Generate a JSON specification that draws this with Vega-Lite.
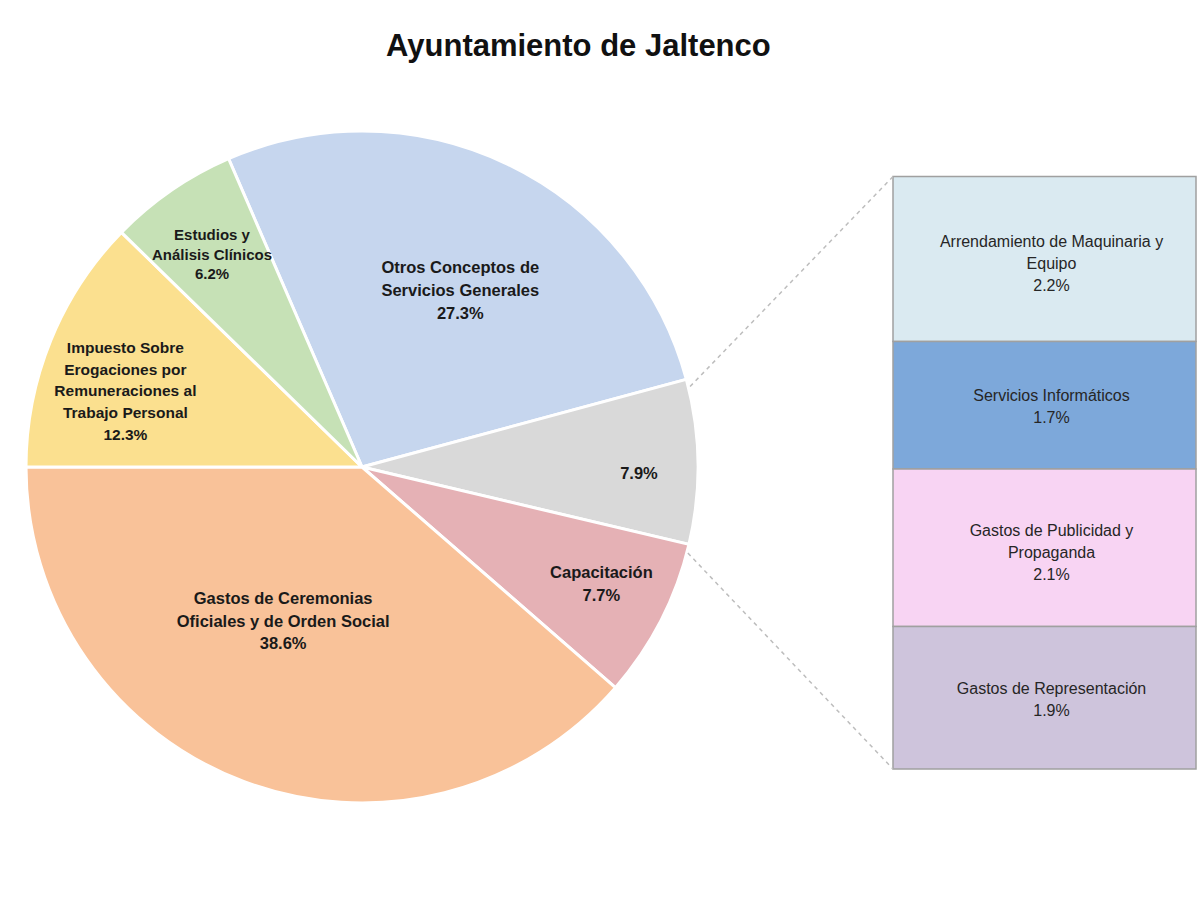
{
  "$schema": "https://vega.github.io/schema/vega-lite/v6.json",
  "background": "white",
  "padding": {"left": 20, "top": 31, "right": 6, "bottom": 10},
  "bounds": "flush",
  "title": {
    "text": "Ayuntamiento de Jaltenco",
    "font": "Liberation Sans",
    "fontSize": 31,
    "fontWeight": "bold",
    "color": "#111111",
    "anchor": "middle",
    "dx": -30,
    "offset": 62
  },
  "config": {"view": {"stroke": null}},
  "resolve": {"scale": {"color": "independent"}},
  "datasets": {
    "pie": [
      {"cat": "Otros Conceptos de Servicios Generales", "value": 27.3, "ord": 1, "label": "Otros Conceptos de\nServicios Generales\n27.3%"},
      {"cat": "Otros", "value": 7.9, "ord": 2, "label": "7.9%"},
      {"cat": "Capacitación", "value": 7.7, "ord": 3, "label": "Capacitación\n7.7%"},
      {"cat": "Gastos de Ceremonias Oficiales y de Orden Social", "value": 38.6, "ord": 4, "label": "Gastos de Ceremonias\nOficiales y de Orden Social\n38.6%"},
      {"cat": "Impuesto Sobre Erogaciones por Remuneraciones al Trabajo Personal", "value": 12.3, "ord": 5, "label": "Impuesto Sobre\nErogaciones por\nRemuneraciones al\nTrabajo Personal\n12.3%"},
      {"cat": "Estudios y Análisis Clínicos", "value": 6.2, "ord": 6, "label": "Estudios y\nAnálisis Clínicos\n6.2%"}
    ],
    "bar": [
      {"cat": "Arrendamiento de Maquinaria y Equipo", "value": 2.2, "ord": 1, "lines": 3, "label": "Arrendamiento de Maquinaria y\nEquipo\n2.2%"},
      {"cat": "Servicios Informáticos", "value": 1.7, "ord": 2, "lines": 2, "label": "Servicios Informáticos\n1.7%"},
      {"cat": "Gastos de Publicidad y Propaganda", "value": 2.1, "ord": 3, "lines": 3, "label": "Gastos de Publicidad y\nPropaganda\n2.1%"},
      {"cat": "Gastos de Representación", "value": 1.9, "ord": 4, "lines": 2, "label": "Gastos de Representación\n1.9%"}
    ]
  },
  "spacing": 195,
  "hconcat": [
    {
      "width": 672,
      "height": 672,
      "data": {"name": "pie"},
      "encoding": {
        "theta": {"field": "value", "type": "quantitative", "stack": true, "scale": {"range": [-0.4084, 5.8748]}},
        "order": {"field": "ord", "type": "quantitative", "sort": "ascending"}
      },
      "layer": [
        {
          "mark": {"type": "arc", "outerRadius": 336, "stroke": "white", "strokeWidth": 3},
          "encoding": {
            "color": {
              "field": "cat",
              "type": "nominal",
              "legend": null,
              "scale": {
                "domain": ["Otros Conceptos de Servicios Generales", "Otros", "Capacitación", "Gastos de Ceremonias Oficiales y de Orden Social", "Impuesto Sobre Erogaciones por Remuneraciones al Trabajo Personal", "Estudios y Análisis Clínicos"],
                "range": ["#C6D6EE", "#D9D9D9", "#E5B1B5", "#F9C299", "#FBE08F", "#C6E1B6"]
              }
            }
          }
        },
        {
          "mark": {"type": "text", "radius": 201, "dx": 11, "dy": -18, "font": "Liberation Sans", "fontSize": 16.5, "fontWeight": "bold", "lineBreak": "\n", "lineHeight": 23, "color": "#1a1a1a"},
          "encoding": {"text": {"condition": {"test": "datum.ord == 1", "field": "label", "type": "nominal"}, "value": ""}}
        },
        {
          "mark": {"type": "text", "radius": 275, "dx": 2, "dy": 11, "font": "Liberation Sans", "fontSize": 16.5, "fontWeight": "bold", "lineBreak": "\n", "lineHeight": 23, "color": "#1a1a1a"},
          "encoding": {"text": {"condition": {"test": "datum.ord == 2", "field": "label", "type": "nominal"}, "value": ""}}
        },
        {
          "mark": {"type": "text", "radius": 268, "dx": 1, "dy": -16, "font": "Liberation Sans", "fontSize": 16.5, "fontWeight": "bold", "lineBreak": "\n", "lineHeight": 23, "color": "#1a1a1a"},
          "encoding": {"text": {"condition": {"test": "datum.ord == 3", "field": "label", "type": "nominal"}, "value": ""}}
        },
        {
          "mark": {"type": "text", "radius": 168, "dx": -20, "dy": -25, "font": "Liberation Sans", "fontSize": 16.5, "fontWeight": "bold", "lineBreak": "\n", "lineHeight": 22.5, "color": "#1a1a1a"},
          "encoding": {"text": {"condition": {"test": "datum.ord == 4", "field": "label", "type": "nominal"}, "value": ""}}
        },
        {
          "mark": {"type": "text", "radius": 263, "dx": 7, "dy": -20, "font": "Liberation Sans", "fontSize": 15.5, "fontWeight": "bold", "lineBreak": "\n", "lineHeight": 21.7, "color": "#1a1a1a"},
          "encoding": {"text": {"condition": {"test": "datum.ord == 5", "field": "label", "type": "nominal"}, "value": ""}}
        },
        {
          "mark": {"type": "text", "radius": 268, "dx": 2, "dy": -11, "font": "Liberation Sans", "fontSize": 15, "fontWeight": "bold", "lineBreak": "\n", "lineHeight": 19.5, "color": "#1a1a1a"},
          "encoding": {"text": {"condition": {"test": "datum.ord == 6", "field": "label", "type": "nominal"}, "value": ""}}
        }
      ]
    },
    {
      "width": 303,
      "height": 672,
      "data": {"name": "bar"},
      "layer": [
        {
          "transform": [
            {"stack": "value", "groupby": [], "sort": [{"field": "ord", "order": "descending"}], "as": ["y0", "y1"]}
          ],
          "mark": {"type": "rect", "stroke": "#A0A0A0", "strokeWidth": 1.5},
          "encoding": {
            "x": {"datum": 0, "type": "quantitative", "scale": {"domain": [0, 1], "nice": false, "zero": false}, "axis": null},
            "x2": {"datum": 1},
            "y": {"field": "y0", "type": "quantitative", "scale": {"domain": [-0.453, 8.507], "nice": false, "zero": false}, "axis": null},
            "y2": {"field": "y1"},
            "color": {
              "field": "cat",
              "type": "nominal",
              "legend": null,
              "scale": {
                "domain": ["Arrendamiento de Maquinaria y Equipo", "Servicios Informáticos", "Gastos de Publicidad y Propaganda", "Gastos de Representación"],
                "range": ["#DAEAF1", "#7DA8DA", "#F8D4F3", "#CEC4DC"]
              }
            }
          }
        },
        {
          "transform": [
            {"stack": "value", "groupby": [], "sort": [{"field": "ord", "order": "descending"}], "as": ["y0", "y1"]},
            {"calculate": "(datum.y0 + datum.y1) / 2", "as": "ymid"}
          ],
          "mark": {"type": "text", "dx": 7, "dy": -17, "font": "Liberation Sans", "fontSize": 16, "lineBreak": "\n", "lineHeight": 22, "color": "#262626"},
          "encoding": {
            "x": {"datum": 0.5, "type": "quantitative"},
            "y": {"field": "ymid", "type": "quantitative"},
            "text": {"condition": {"test": "datum.lines == 3", "field": "label", "type": "nominal"}, "value": ""}
          }
        },
        {
          "transform": [
            {"stack": "value", "groupby": [], "sort": [{"field": "ord", "order": "descending"}], "as": ["y0", "y1"]},
            {"calculate": "(datum.y0 + datum.y1) / 2", "as": "ymid"}
          ],
          "mark": {"type": "text", "dx": 7, "dy": -9, "font": "Liberation Sans", "fontSize": 16, "lineBreak": "\n", "lineHeight": 22, "color": "#262626"},
          "encoding": {
            "x": {"datum": 0.5, "type": "quantitative"},
            "y": {"field": "ymid", "type": "quantitative"},
            "text": {"condition": {"test": "datum.lines == 2", "field": "label", "type": "nominal"}, "value": ""}
          }
        },
        {
          "transform": [{"aggregate": [{"op": "sum", "field": "value", "as": "total"}]}],
          "mark": {"type": "rule", "color": "#BDBDBD", "strokeWidth": 1.5, "strokeDash": [4, 4]},
          "encoding": {
            "x": {"datum": 0, "type": "quantitative"},
            "x2": {"datum": -0.677},
            "y": {"field": "total", "type": "quantitative"},
            "y2": {"datum": 5.07}
          }
        },
        {
          "transform": [{"aggregate": [{"op": "sum", "field": "value", "as": "total"}]}],
          "mark": {"type": "rule", "color": "#BDBDBD", "strokeWidth": 1.5, "strokeDash": [4, 4]},
          "encoding": {
            "x": {"datum": -0.677, "type": "quantitative"},
            "x2": {"datum": 0},
            "y": {"datum": 2.88, "type": "quantitative"},
            "y2": {"datum": 0}
          }
        }
      ]
    }
  ]
}
